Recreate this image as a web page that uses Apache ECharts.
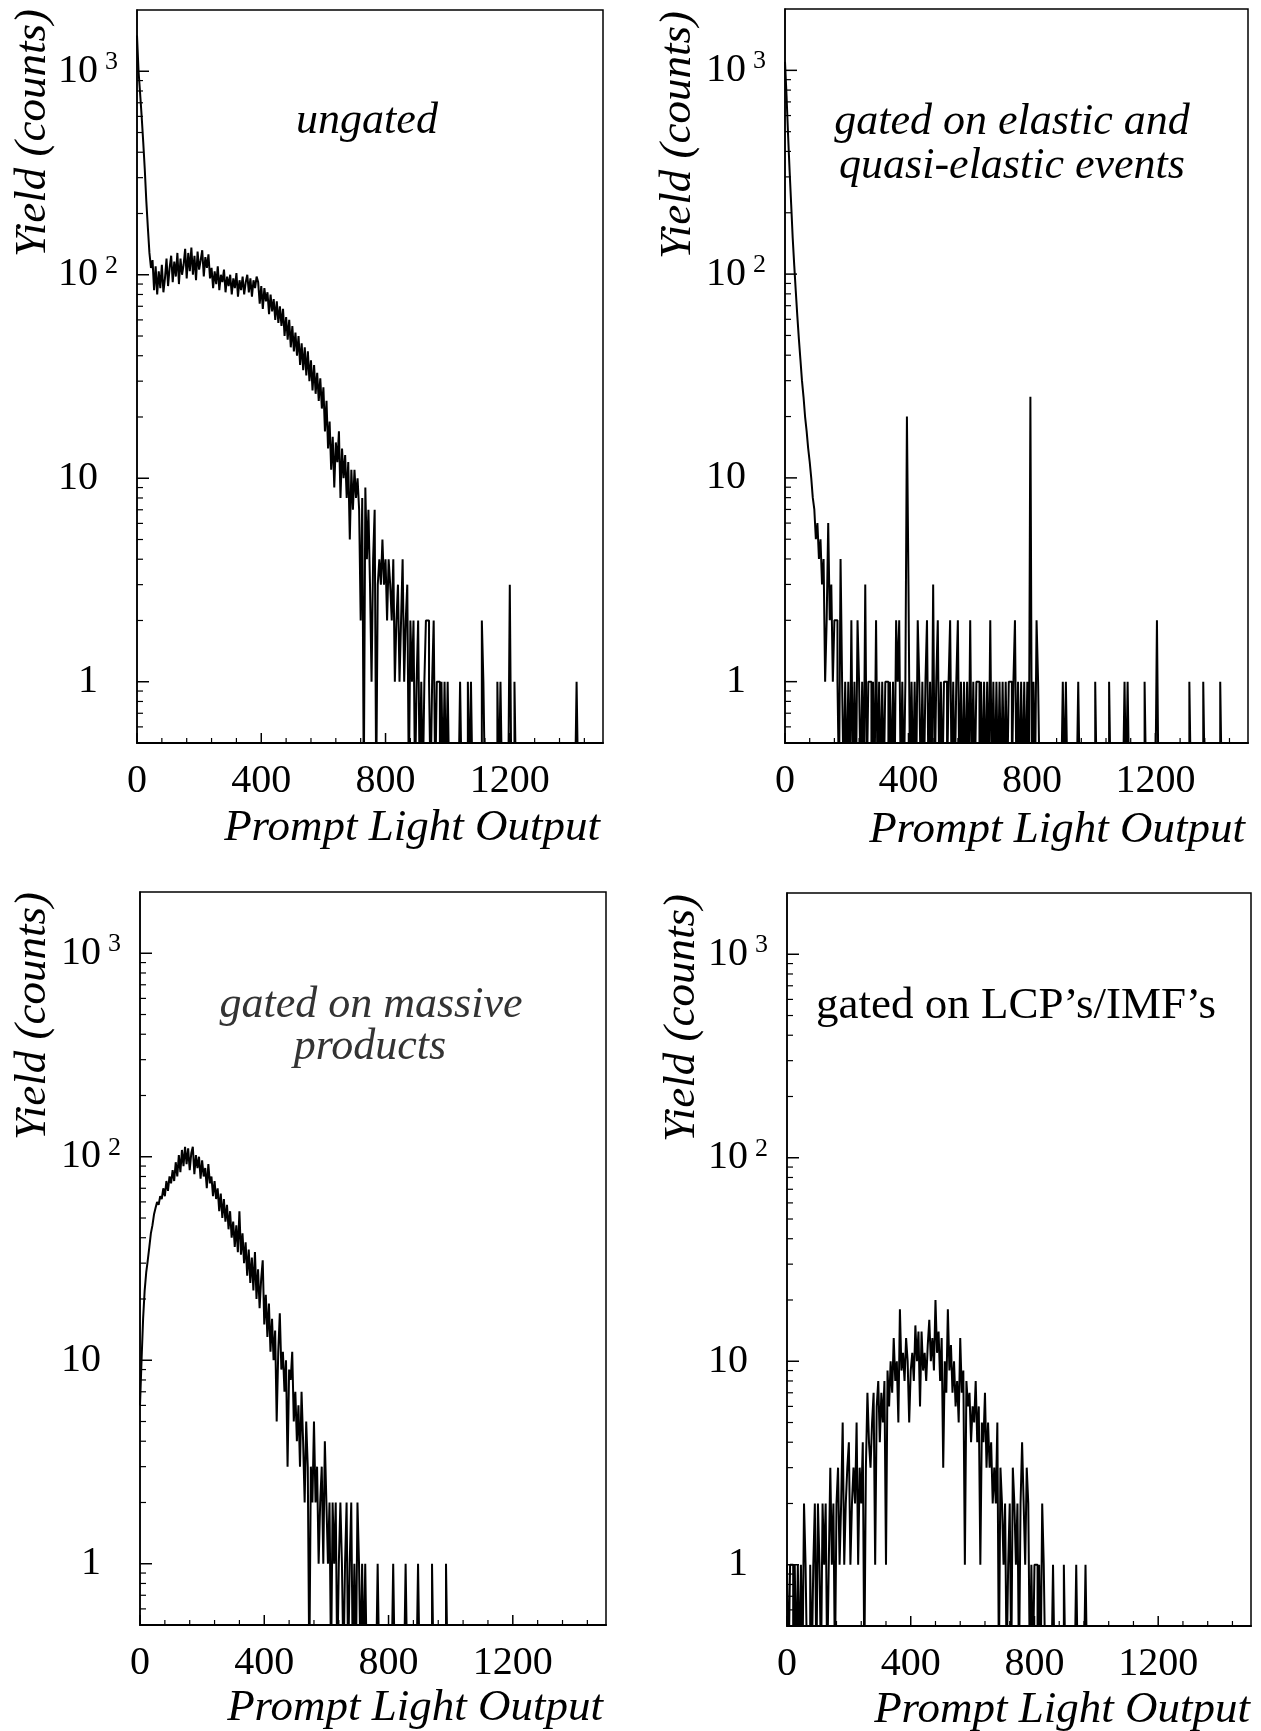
<!DOCTYPE html>
<html>
<head>
<meta charset="utf-8">
<title>Prompt Light Output</title>
<script src="https://cdn.jsdelivr.net/npm/echarts@6/dist/echarts.min.js"></script>
<style>
    html, body { margin: 0; padding: 0; background: #fff; }
    #chart { width: 1261px; height: 1731px; }
</style>
</head>
<body>
<div id="chart"></div>
<script>
// histogram bins are 5 channels wide, x runs 0..1500
var binWidth = 5;
var xMax = 1500;
var yMin = 0.5;
var yMax = 2000;
var emptyLevel = 0.3; // empty bins are drawn below the 0.5 floor

var xTickValues = [0, 400, 800, 1200];
var xMinorValues = [80, 160, 240, 320, 480, 560, 640, 720, 880, 960, 1040, 1120, 1280, 1360, 1440];
var yTickValues = [1, 10, 100, 1000];
var yTickBase = ['1', '10', '10', '10'];
var yTickExp = ['', '', '2', '3'];
var yMinorValues = [0.6, 0.7, 0.8, 0.9, 2, 3, 4, 5, 6, 7, 8, 9, 20, 30, 40, 50, 60, 70, 80, 90,
    200, 300, 400, 500, 600, 700, 800, 900];

// ungated
var ungatedCounts = [
    1500, 1000, 780, 600, 450, 330, 230, 170, 128, 108,
    118, 84, 110, 80, 104, 86, 112, 82, 96, 120, 88, 108,
    124, 92, 116, 98, 128, 90, 120, 100,
    112, 134, 96, 128, 104, 136, 100, 124, 94, 130, 106, 118, 132, 98, 122, 108, 126, 96,
    108, 86, 104, 90, 110, 84, 100, 92, 106, 82, 98, 88,
    100, 80, 96, 86, 102, 78, 94, 84, 98, 80, 92, 100, 82, 96, 78, 94, 86, 98,
    92, 72, 88, 68, 86, 74, 82, 64, 80, 66, 76, 60, 74, 58, 70, 56,
    68, 50, 62, 48, 60, 44, 56, 42, 52, 40, 50, 36, 46, 34, 44, 32,
    42, 30, 38, 27, 36, 26, 33, 24, 31, 22,
    28, 17, 24, 14, 19, 11, 16, 9, 15, 12, 17, 8, 14, 10, 13, 8,
    12, 5, 11, 7, 11, 8, 10, 7, 2, 8, 0, 9,
    4, 7, 3, 1, 4, 7, 0, 3, 4, 3, 5, 3, 4, 2,
    4, 3, 2, 4, 1, 2, 3, 1, 2, 4, 1, 2, 3, 0, 2, 1, 2, 0,
    1, 2, 0, 1, 0, 1, 2, 2, 1, 0, 1, 2, 0, 1, 1, 0, 1, 0, 1, 0, 1, 0
];
var ungatedTail = [[1040, 1], [1065, 1], [1075, 1], [1110, 2], [1115, 1], [1160, 1], [1170, 1],
    [1200, 3], [1215, 1], [1415, 1]];

// gated on elastic and quasi-elastic events
var elasticCounts = [
    1100, 750, 480, 320, 220, 150, 110, 82, 62, 48, 38, 30, 25, 20, 17, 14, 12, 10,
    8, 7, 5, 6, 4, 5, 3, 4, 1, 2, 6, 2, 3, 1, 2, 2, 1, 0, 4, 1,
    0, 1, 0, 1, 0, 2, 0, 1, 0, 2,
    1, 0, 1, 0, 3, 0, 1, 1, 0, 1,
    0, 2, 0, 1, 0, 1, 0, 1, 1, 0,
    1, 0, 1, 0, 2, 1, 2, 0, 1, 0,
    1, 20, 3, 0, 1, 0, 1, 0, 2, 1,
    0, 1, 0, 1, 2, 0, 1, 0, 3, 0,
    1, 2, 0, 1, 0, 1, 1, 0, 1, 2,
    0, 1, 0, 1, 2, 0, 1, 0, 1, 0,
    1, 0, 2, 0, 1, 0, 1, 1, 0, 1,
    0, 1, 0, 1, 0, 2, 0, 1, 0, 1,
    0, 1, 0, 1, 0, 1, 0, 1, 1, 0,
    1, 2, 0, 1, 0, 1, 0, 1, 0, 1,
    0, 25, 0, 1, 0, 2, 1, 0
];
var elasticTail = [[900, 1], [910, 1], [950, 1], [1005, 1], [1050, 1], [1100, 1], [1110, 1],
    [1165, 1], [1205, 2], [1310, 1], [1355, 1], [1410, 1]];

// gated on massive products
var massiveCounts = [
    6, 10, 16, 22, 27, 31, 36, 42, 46, 52,
    56, 60, 58, 64, 62, 70, 64, 76, 68, 80,
    74, 86, 76, 94, 80, 102, 84, 108, 90, 112,
    92, 110, 86, 104, 112, 82, 102, 88, 100, 78,
    96, 80, 88, 70, 92, 74, 80, 64, 76, 62,
    70, 54, 66, 50, 62, 48, 58, 44, 54, 40,
    48, 36, 46, 34, 54, 33, 42, 30, 38, 26,
    35, 24, 32, 22, 34, 20, 28, 18, 25, 31,
    15, 21, 13, 19, 11, 16, 10, 14, 5, 11,
    17, 9, 11, 7, 10, 3, 9, 8, 11, 5,
    7, 4, 6, 3, 7, 4, 2, 5, 3, 0,
    3, 2, 5, 2, 3, 1, 2, 3, 1, 4,
    2, 1, 2, 0, 2, 1, 2, 0, 1, 2,
    1, 0, 1, 2, 0, 1, 2, 0, 1, 0,
    2, 1, 0, 1, 0
];
var massiveTail = [[725, 1], [765, 1], [815, 1], [855, 1], [895, 1], [940, 1], [985, 1]];

// gated on LCP's/IMF's
var lcpCounts = [
    1, 0, 1, 1, 0, 1, 0, 1, 0, 1, 0, 2, 1, 0,
    0, 1, 0, 1, 2, 0, 2, 1, 0, 2, 1, 2, 0, 1,
    3, 1, 2, 0, 2, 3, 1, 2, 5, 1, 2, 3, 4, 1, 2, 3, 2, 5,
    1, 3, 2, 4, 0, 3,
    7, 4, 3, 5, 7, 1, 6, 8, 4, 7,
    5, 8, 1, 9, 6, 10, 7, 13, 8, 10,
    5, 18, 9, 11, 8, 13, 10, 5, 9, 11,
    8, 15, 10, 14, 6, 14, 9, 11, 8, 12,
    16, 10, 13, 9, 20, 11, 14, 8, 13, 3,
    10, 7, 18, 9, 12, 7, 10, 6, 8, 5,
    13, 7, 9, 1, 8, 6, 7, 4, 6, 5,
    8, 4, 6, 1, 5, 4, 7, 3, 5, 3,
    4, 2, 3, 2, 5, 0, 3, 2, 1, 2,
    0, 1, 2, 0, 3, 2, 1, 2, 0, 2,
    4, 2, 1, 3, 2, 0, 1, 0, 1, 1,
    0, 1, 0, 2, 1, 0
];
var lcpTail = [[860, 1], [895, 1], [935, 1], [965, 1]];

var serif = '"Liberation Serif", "DejaVu Serif", serif';

var panels = [
    {counts: ungatedCounts, tail: ungatedTail},
    {counts: elasticCounts, tail: elasticTail},
    {counts: massiveCounts, tail: massiveTail},
    {counts: lcpCounts, tail: lcpTail}
];
var layouts = [
    {left: 137, top: 10, width: 466, height: 733},
    {left: 785, top: 9, width: 463, height: 734},
    {left: 140, top: 892, width: 466, height: 733},
    {left: 787, top: 893, width: 464, height: 733}
];

function buildSteps(counts, tail) {
    var n = xMax / binWidth;
    var bins = [];
    for (var i = 0; i < n; i++) {
        bins.push(i < counts.length ? counts[i] : 0);
    }
    tail.forEach(function (t) {
        bins[Math.round(t[0] / binWidth)] = t[1];
    });
    var pts = bins.map(function (c, i) {
        return [i * binWidth, c > 0 ? c : emptyLevel];
    });
    pts.push([xMax, emptyLevel]);
    return pts;
}

function yLabel(v) {
    for (var i = 0; i < yTickValues.length; i++) {
        if (Math.abs(v - yTickValues[i]) < 1e-6 * yTickValues[i]) {
            if (yTickExp[i]) return '{n|' + yTickBase[i] + '}{s|' + yTickExp[i] + '}';
            return '{n|' + yTickBase[i] + '}{e| }';
        }
    }
    return '';
}

// tick marks pointing into the frame, placed through the axis scales
function tickData(major, minor, majorLen, minorLen) {
    return major.map(function (v) { return [v, majorLen]; })
        .concat(minor.map(function (v) { return [v, minorLen]; }));
}
function renderYTick(params, api) {
    var p = api.coord([0, api.value(0)]);
    var len = api.value(1);
    return {
        type: 'line',
        shape: {x1: p[0], y1: p[1], x2: p[0] + len, y2: p[1]},
        style: {stroke: '#000', lineWidth: len > 8 ? 1.5 : 1.2}
    };
}
function renderXTick(params, api) {
    var p = api.coord([api.value(0), yMin]);
    var len = api.value(1);
    return {
        type: 'line',
        shape: {x1: p[0], y1: p[1], x2: p[0], y2: p[1] - len},
        style: {stroke: '#000', lineWidth: len > 7 ? 1.5 : 1.2}
    };
}

var myChart = echarts.init(document.getElementById('chart'));
var option = {
    animation: false,
    backgroundColor: '#fff',
    grid: [],
    xAxis: [],
    yAxis: [],
    series: [],
    graphic: []
};

layouts.forEach(function (g, i) {
    option.grid.push({
        left: g.left, top: g.top, width: g.width, height: g.height,
        show: true, borderColor: '#000', borderWidth: 1.5, backgroundColor: 'transparent'
    });
    option.xAxis.push({
        type: 'value', gridIndex: i, min: 0, max: xMax, interval: 400, position: 'bottom',
        splitLine: {show: false},
        axisLine: {show: true, onZero: false, lineStyle: {color: '#000', width: 2}},
        axisTick: {show: false},
        axisLabel: {
            show: true, margin: 18, color: '#000', fontFamily: serif, fontSize: 40,
            formatter: function (v) { return xTickValues.indexOf(v) >= 0 ? String(v) : ''; }
        }
    });
    option.yAxis.push({
        type: 'log', logBase: 10, gridIndex: i, min: yMin, max: yMax, position: 'left',
        splitLine: {show: false},
        axisLine: {show: true, onZero: false, lineStyle: {color: '#000', width: 1.5}},
        axisTick: {show: false},
        axisLabel: {
            show: true, margin: 19, color: '#000',
            formatter: yLabel,
            rich: {
                n: {fontFamily: serif, fontSize: 40, lineHeight: 44, color: '#000'},
                s: {fontFamily: serif, fontSize: 26, verticalAlign: 'top', padding: [0, 0, 0, 7], color: '#000'},
                e: {fontFamily: serif, fontSize: 26, width: 20}
            }
        }
    });
    option.series.push({
        type: 'line',
        xAxisIndex: i,
        yAxisIndex: i,
        data: buildSteps(panels[i].counts, panels[i].tail),
        step: 'end',
        symbol: 'none',
        clip: true,
        silent: true,
        lineStyle: {color: '#000', width: 2}
    });
    option.series.push({
        type: 'custom', xAxisIndex: i, yAxisIndex: i, silent: true, clip: false,
        data: tickData(yTickValues, yMinorValues, 12, 6),
        renderItem: renderYTick
    });
    option.series.push({
        type: 'custom', xAxisIndex: i, yAxisIndex: i, silent: true, clip: false,
        data: tickData(xTickValues, xMinorValues, 10, 5),
        renderItem: renderXTick
    });
});

function addText(text, x, y, opts) {
    option.graphic.push({
        type: 'text', x: x, y: y, rotation: opts.rotation || 0, z: 10, silent: true,
        style: {
            text: text, fill: opts.color || '#000',
            fontFamily: serif, fontSize: opts.size || 44, fontStyle: opts.italic === false ? 'normal' : 'italic',
            align: opts.align || 'center', textAlign: opts.align || 'center',
            verticalAlign: 'middle', textVerticalAlign: 'middle'
        }
    });
}

// axis titles
addText('Yield (counts)', 33, 133, {rotation: Math.PI / 2, size: 45});
addText('Yield (counts)', 678, 135, {rotation: Math.PI / 2, size: 45});
addText('Yield (counts)', 33, 1016, {rotation: Math.PI / 2, size: 45});
addText('Yield (counts)', 682, 1018, {rotation: Math.PI / 2, size: 45});
addText('Prompt Light Output', 600, 828, {align: 'right', size: 45});
addText('Prompt Light Output', 1245, 830, {align: 'right', size: 45});
addText('Prompt Light Output', 603, 1708, {align: 'right', size: 45});
addText('Prompt Light Output', 1250, 1710, {align: 'right', size: 45});

// panel captions
addText('ungated', 367, 121, {});
addText('gated on elastic and', 1012, 122, {});
addText('quasi-elastic events', 1012, 166, {});
addText('gated on massive', 371, 1005, {color: '#333'});
addText('products', 370, 1047, {color: '#333'});
addText('gated on LCP\u2019s/IMF\u2019s', 1016, 1006, {italic: false, size: 45});

myChart.setOption(option);
window.addEventListener('resize', function () {
    myChart.resize();
});
</script>
</body>
</html>
